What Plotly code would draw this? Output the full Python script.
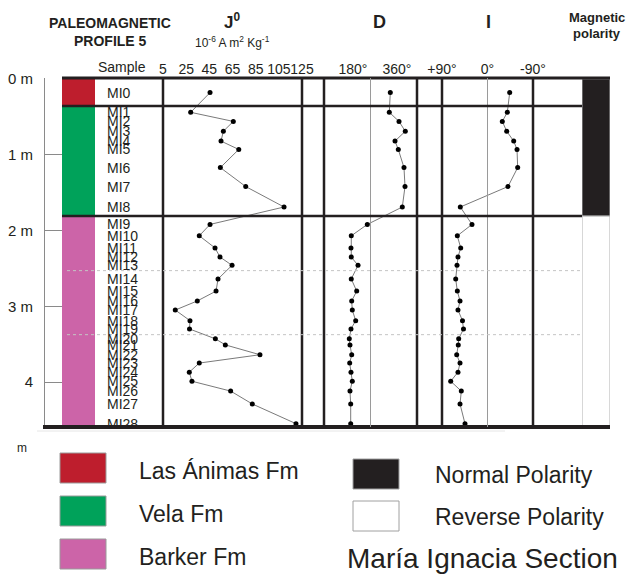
import plotly.graph_objects as go

W, H = 630, 575
def px(x): return x / W
def py(y): return 1 - y / H

# ---------------- data ----------------
samples = ["MI0", "MI1", "MI2", "MI3", "MI4", "MI5", "MI6", "MI7", "MI8", "MI9",
           "MI10", "MI11", "MI12", "MI13", "MI14", "MI15", "MI16", "MI17", "MI18", "MI19",
           "MI20", "MI21", "MI22", "MI23", "MI24", "MI25", "MI26", "MI27", "MI28"]
depth_m = [0.18, 0.44, 0.56, 0.69, 0.82, 0.93, 1.17, 1.42, 1.69, 1.92,
           2.07, 2.23, 2.35, 2.46, 2.64, 2.80, 2.93, 3.05, 3.19, 3.30,
           3.43, 3.51, 3.64, 3.75, 3.87, 3.99, 4.12, 4.29, 4.55]
J0 = [45.6, 28.9, 65.7, 57.1, 55.1, 70.4, 54.5, 76.4, 109.5, 45.6,
      36.3, 49.9, 54.2, 64.6, 52.5, 50.8, 34.6, 15.6, 28.3, 27.9,
      50.2, 58.8, 88.7, 36.3, 27.7, 30.0, 63.4, 82.1, 119.8]
D_deg = [332.6, 328.5, 368.2, 393.9, 351.8, 365.3, 388.6, 392.7, 381.7, 238.5,
         173.0, 171.8, 173.0, 200.5, 173.0, 195.1, 174.7, 177.1, 191.0, 171.8,
         164.9, 167.7, 174.7, 166.5, 171.8, 177.1, 167.7, 170.6, 170.6]
I_deg = [-43.9, -39.2, -29.3, -38.0, -51.8, -58.4, -59.7, -40.5, 53.8, 30.7,
         59.7, 53.0, 58.4, 60.3, 62.9, 59.7, 54.4, 58.4, 49.5, 47.5,
         57.0, 57.8, 60.9, 54.4, 58.4, 72.8, 51.8, 54.4, 44.5]

formations = ["Las Ánimas Fm", "Vela Fm", "Barker Fm"]
form_top = [0.0, 0.356, 1.81]
form_base = [0.356, 1.81, 4.594]
form_colors = ["#BE1E2D", "#00A25A", "#CC64A8"]

polarity = ["Normal Polarity", "Reverse Polarity"]
pol_top = [0.0, 1.81]
pol_base = [1.81, 4.594]
pol_colors = ["#231F20", "#FFFFFF"]

guide_depths = [2.53, 3.375]          # dotted reference lines

J_ticks = [5, 25, 45, 65, 85, 105, 125]
D_ticks = [180, 360]
D_ticktext = ["180°", "360°"]
I_ticks = [90, 0, -90]
I_ticktext = ["+90°", "0°", "-90°"]
depth_ticks = [0, 1, 2, 3, 4]
depth_ticktext = ["0 m", "1 m", "2 m", "3 m", "4"]

# ---------------- figure ----------------
FONT = "Liberation Sans, Arial, sans-serif"
INK = "#231F20"
fig = go.Figure()

line_style = dict(color="#7a7a7a", width=1)
mark_style = dict(color="black", size=5)
for xa, vals in (("x", J0), ("x2", D_deg), ("x3", I_deg)):
    fig.add_trace(go.Scatter(x=vals, y=depth_m, xaxis=xa, yaxis="y",
                             mode="lines+markers", line=line_style,
                             marker=mark_style, hoverinfo="skip"))

fig.add_trace(go.Bar(x=[0.5] * len(formations),
                     y=[b - t for t, b in zip(form_top, form_base)],
                     base=form_top, width=1, xaxis="x4", yaxis="y",
                     marker=dict(color=form_colors, line=dict(width=0)),
                     hoverinfo="skip"))
fig.add_trace(go.Bar(x=[0.5] * len(polarity),
                     y=[b - t for t, b in zip(pol_top, pol_base)],
                     base=pol_top, width=1, xaxis="x5", yaxis="y",
                     marker=dict(color=pol_colors, line=dict(width=1, color="#b0b0b0")),
                     hoverinfo="skip"))

ytop, ybot = 78, 427
shapes = []
# frame
shapes.append(dict(type="line", xref="paper", yref="paper", x0=px(62), x1=px(610),
                   y0=py(ytop), y1=py(ytop), line=dict(color=INK, width=3)))
shapes.append(dict(type="line", xref="paper", yref="paper", x0=px(43), x1=px(610),
                   y0=py(ybot), y1=py(ybot), line=dict(color=INK, width=4)))
for xv in (163, 302, 324, 417, 442, 533):
    shapes.append(dict(type="line", xref="paper", yref="paper", x0=px(xv), x1=px(xv),
                       y0=py(ytop), y1=py(ybot), line=dict(color=INK, width=2.5)))
# centre lines of D and I panels
shapes.append(dict(type="line", xref="x2", yref="paper", x0=251.6, x1=251.6,
                   y0=py(ytop), y1=py(ybot), line=dict(color="#9a9a9a", width=1)))
shapes.append(dict(type="line", xref="x3", yref="paper", x0=0, x1=0,
                   y0=py(ytop), y1=py(ybot), line=dict(color="#9a9a9a", width=1)))
# formation boundaries
for d in form_top[1:]:
    shapes.append(dict(type="line", xref="paper", yref="y", x0=px(62), x1=px(582),
                       y0=d, y1=d, line=dict(color=INK, width=2.5)))
for d in guide_depths:
    shapes.append(dict(type="line", xref="paper", yref="y", x0=px(67), x1=px(582),
                       y0=d, y1=d, line=dict(color="#c4c4c4", width=1, dash="dot")))
shapes.append(dict(type="line", xref="paper", yref="paper", x0=px(37), x1=px(505),
                   y0=py(431), y1=py(431), line=dict(color="#e6e6e6", width=1)))

annotations = []
def txt(x, y, s, size, bold=False, anchor="center", color=INK):
    annotations.append(dict(x=px(x), y=py(y), xref="paper", yref="paper", text=s,
                            showarrow=False, xanchor=anchor, yanchor="middle",
                            font=dict(family=FONT, size=size, color=color,
                                      weight="bold" if bold else "normal")))

for s, d in zip(samples, depth_m):
    annotations.append(dict(x=px(105), y=d, xref="paper", yref="y", text=s,
                            showarrow=False, xanchor="left", yanchor="middle",
                            font=dict(family=FONT, size=14, color=INK)))

txt(110, 23, "PALEOMAGNETIC", 14, True)
txt(110, 41, "PROFILE 5", 14, True)
txt(232, 21, "J<sup>0</sup>", 17, True)
txt(232, 42, "10<sup>-6</sup> A m<sup>2</sup> Kg<sup>-1</sup>", 12)
txt(379, 22, "D", 18, True)
txt(488, 22, "I", 18, True)
txt(597, 17, "Magnetic", 13, True)
txt(597, 33, "polarity", 13, True)
txt(122, 67, "Sample", 14)
txt(22, 448, "m", 12)

# legend
form_leg_y = [468, 511, 554]
for name, col, yc in zip(formations, form_colors, form_leg_y):
    shapes.append(dict(type="rect", xref="paper", yref="paper", x0=px(60), x1=px(106),
                       y0=py(yc - 15), y1=py(yc + 15), fillcolor=col,
                       line=dict(color="#9a9a9a", width=1)))
    txt(137, yc + 3, name, 23, anchor="left")
pol_leg_y = [474, 516]
for name, col, yc in zip(polarity, pol_colors, pol_leg_y):
    shapes.append(dict(type="rect", xref="paper", yref="paper", x0=px(353), x1=px(399),
                       y0=py(yc - 15), y1=py(yc + 15), fillcolor=col,
                       line=dict(color="#a0a0a0", width=1)))
    txt(433, yc + 1, name, 23, anchor="left")
txt(345, 558, "María Ignacia Section", 28, anchor="left")

ax_common = dict(side="top", anchor="y", showgrid=False, zeroline=False, showline=False,
                 ticks="", tickangle=0, automargin=False,
                 tickfont=dict(family=FONT, size=14, color=INK))
hidden = dict(range=[0, 1], visible=False, anchor="y", automargin=False, fixedrange=True)

fig.update_layout(
    width=W, height=H, margin=dict(l=0, r=0, t=0, b=0, pad=0, autoexpand=False),
    paper_bgcolor="white", plot_bgcolor="white", showlegend=False,
    barmode="overlay", font=dict(family=FONT, color=INK),
    xaxis=dict(domain=[px(163), px(302)], range=[5, 125], tickvals=J_ticks, **ax_common),
    xaxis2=dict(domain=[px(324), px(417)], range=[61.4, 441.8], tickvals=D_ticks,
                ticktext=D_ticktext, **ax_common),
    xaxis3=dict(domain=[px(442), px(533)], range=[90, -90], tickvals=I_ticks,
                ticktext=I_ticktext, **ax_common),
    xaxis4=dict(domain=[px(62), px(95)], **hidden),
    xaxis5=dict(domain=[px(582), px(610)], **hidden),
    yaxis=dict(domain=[py(ybot), py(ytop)], range=[4.594, -0.013],
               anchor="free", position=px(44), side="left", automargin=False,
               tickvals=depth_ticks, ticktext=depth_ticktext,
               ticks="inside", ticklen=18, tickcolor="#8a8a8a", tickwidth=1,
               showline=True, linecolor="#8a8a8a", linewidth=1,
               showgrid=False, zeroline=False, ticklabelstandoff=8,
               tickfont=dict(family=FONT, size=15, color=INK)),
    shapes=shapes, annotations=annotations,
)

fig.write_html("out.html")
